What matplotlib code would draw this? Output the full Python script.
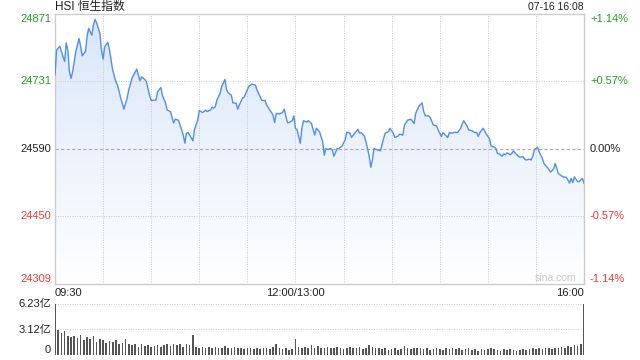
import matplotlib

matplotlib.use("Agg")
import matplotlib.pyplot as plt
import numpy as np
from matplotlib.colors import LinearSegmentedColormap

plt.rcParams["font.family"] = ["Liberation Sans", "Noto Sans CJK SC", "DejaVu Sans"]

# minutes since 09:30 on the trading-time axis (lunch break removed)
minutes = [
    0, 1, 3, 4, 6, 7, 8, 9, 10, 11, 13, 15, 16, 17, 19, 20, 21, 23, 24, 25,
    26, 28, 29, 30, 31, 33, 34, 36, 38, 39, 41, 43, 45, 46, 48, 49, 51, 52, 53, 54,
    56, 57, 59, 60, 63, 64, 66, 67, 69, 70, 72, 74, 75, 77, 78, 80, 81, 82, 83, 84,
    86, 87, 89, 90, 92, 93, 94, 95, 97, 98, 99, 100, 101, 103, 104, 106, 107, 108, 110, 111,
    113, 114, 115, 117, 118, 120, 121, 123, 125, 126, 128, 129, 131, 132, 134, 136, 137, 138, 140, 142,
    143, 145, 146, 148, 149, 150, 151, 153, 154, 155, 157, 158, 160, 162, 163, 165, 167, 168, 169, 170,
    172, 173, 174, 176, 177, 179, 181, 182, 184, 185, 187, 189, 190, 191, 193, 194, 196, 197, 198, 199,
    201, 202, 203, 205, 206, 208, 209, 211, 212, 214, 215, 217, 218, 220, 222, 224, 225, 227, 229, 230,
    231, 233, 234, 236, 238, 239, 241, 242, 243, 245, 246, 248, 249, 251, 253, 254, 255, 257, 258, 260,
    262, 263, 264, 265, 267, 268, 269, 271, 272, 274, 275, 276, 277, 279, 280, 281, 282, 284, 285, 286,
    287, 289, 290, 292, 293, 294, 296, 297, 298, 299, 301, 302, 304, 305, 307, 308, 309, 311, 312, 313,
    314, 316, 317, 319, 321, 322, 323, 324, 326, 327, 329, 330,
]
prices = [
    24744, 24796, 24804, 24793, 24772, 24811, 24796, 24751, 24737, 24751,
    24793, 24820, 24803, 24784, 24793, 24824, 24841, 24827, 24848, 24860,
    24852, 24831, 24796, 24777, 24803, 24812, 24796, 24754, 24730, 24723,
    24696, 24673, 24696, 24713, 24737, 24744, 24756, 24744, 24732, 24740,
    24735, 24730, 24702, 24691, 24692, 24709, 24718, 24702, 24685, 24671,
    24668, 24644, 24652, 24650, 24640, 24619, 24602, 24623, 24624, 24619,
    24607, 24630, 24650, 24670, 24666, 24668, 24671, 24668, 24671, 24677,
    24675, 24678, 24692, 24706, 24720, 24735, 24714, 24707, 24702, 24686,
    24685, 24673, 24682, 24696, 24698, 24713, 24721, 24725, 24723, 24713,
    24698, 24691, 24691, 24682, 24671, 24661, 24645, 24664, 24663, 24666,
    24673, 24645, 24645, 24649, 24659, 24633, 24630, 24602, 24633, 24649,
    24646, 24649, 24643, 24619, 24633, 24626, 24605, 24577, 24591, 24589,
    24591, 24588, 24575, 24591, 24591, 24596, 24609, 24625, 24623, 24614,
    24623, 24631, 24623, 24624, 24617, 24605, 24575, 24552, 24567, 24591,
    24588, 24588, 24586, 24612, 24623, 24626, 24633, 24623, 24614, 24617,
    24621, 24619, 24640, 24650, 24652, 24643, 24664, 24679, 24686, 24668,
    24659, 24659, 24656, 24640, 24638, 24630, 24616, 24624, 24621, 24614,
    24624, 24623, 24625, 24624, 24633, 24642, 24649, 24638, 24630, 24628,
    24624, 24625, 24616, 24624, 24633, 24628, 24621, 24612, 24596, 24594,
    24591, 24581, 24580, 24575, 24580, 24578, 24582, 24578, 24581, 24586,
    24582, 24575, 24573, 24574, 24569, 24567, 24569, 24567, 24574, 24588,
    24594, 24584, 24571, 24560, 24552, 24548, 24542, 24548, 24560, 24550,
    24539, 24534, 24532, 24531, 24519, 24529, 24520, 24532, 24522, 24522,
    24529, 24519,
]

# turnover per 2-minute slot, in 亿
volumes = [
    6.23, 3.0, 2.7, 2.95, 2.3, 2.2, 2.3, 2.1, 2.4, 1.8,
    2.2, 1.9, 2.3, 1.6, 1.9, 1.8, 1.5, 1.7, 1.6, 1.8,
    1.4, 1.5, 1.9, 1.3, 1.2, 1.3, 1.0, 1.4, 1.1, 1.2,
    1.0, 1.1, 1.2, 1.0, 1.2, 1.3, 1.1, 1.4, 1.2, 1.3,
    1.0, 1.3, 1.2, 2.4, 1.0, 0.9, 1.0, 0.8, 1.0, 0.9,
    1.0, 0.8, 0.9, 1.1, 0.9, 0.8, 1.0, 0.8, 0.9, 0.7,
    0.8, 0.9, 0.7, 0.8, 0.7, 0.9, 0.8, 0.7, 1.0, 1.3,
    0.9, 0.7, 0.8, 0.6, 0.7, 1.9, 1.0, 0.9, 1.0, 0.8,
    1.2, 0.9, 1.1, 0.8, 0.9, 1.0, 0.9, 0.8, 1.0, 0.9,
    0.7, 0.8, 1.0, 0.8, 0.9, 1.0, 0.7, 0.8, 1.2, 1.0,
    0.9, 0.8, 0.7, 0.8, 0.6, 0.7, 0.8, 0.6, 0.7, 1.1,
    0.9, 0.7, 0.8, 0.9, 0.8, 0.7, 0.8, 0.6, 0.7, 0.8,
    0.7, 0.6, 0.8, 0.7, 0.9, 0.7, 0.8, 0.6, 0.7, 0.8,
    0.6, 0.7, 0.5, 0.7, 0.6, 0.7, 0.8, 0.7, 0.6, 0.5,
    0.7, 0.6, 0.7, 0.6, 0.5, 0.6, 0.7, 0.6, 0.7, 0.8,
    0.7, 0.8, 0.7, 0.9, 0.8, 0.7, 0.9, 0.8, 1.0, 0.9,
    1.1, 1.0, 1.2, 1.1, 1.3, 6.23,
]
vol_minutes = list(range(0, 331, 2))

prev_close = 24590
price_ticks = [24309, 24450, 24590, 24731, 24871]
pct_labels = ["-1.14%", "-0.57%", "0.00%", "+0.57%", "+1.14%"]
vol_ticks = [0, 3.12, 6.23]
vol_labels = ["0", "3.12亿", "6.23亿"]
time_labels = ["09:30", "12:00/13:00", "16:00"]
time_pos = [0, 150, 330]

GREEN = "#22a022"
RED = "#f03c3c"
DARK = "#222222"
LINE = "#4f8ef2"
GRID = "#c8c8c8"


def tick_color(v):
    if v > prev_close:
        return GREEN
    if v < prev_close:
        return RED
    return DARK


fig = plt.figure(figsize=(6.4, 3.6), dpi=100)
ax = fig.add_axes([55 / 640, 1 - 284 / 360, 529 / 640, 270 / 360])
axv = fig.add_axes([55 / 640, 1 - 355 / 360, 529 / 640, 51 / 360])

x = np.array(minutes)
y = np.array(prices)
ymin, ymax = price_ticks[0], price_ticks[-1]

# gradient fill under the line
poly = ax.fill_between(x, y, ymin, color="none", lw=0)
cmap = LinearSegmentedColormap.from_list("fade", ["#ffffff", "#d9e6f9"])
grad = np.linspace(0, 1, 256).reshape(-1, 1)
im = ax.imshow(grad, cmap=cmap, aspect="auto", origin="lower",
               extent=[0, 330, ymin, ymax], zorder=1)
im.set_clip_path(poly.get_paths()[0], transform=ax.transData)
ax.plot(x, y, color=LINE, lw=1.0, zorder=3)

ax.set_xlim(0, 330)
ax.set_ylim(ymin, ymax)
for m in range(30, 330, 30):
    ax.axvline(m, color=GRID, lw=0.7, ls=(0, (1, 1.5)), zorder=2)
for v in price_ticks[1:-1]:
    if v == prev_close:
        ax.axhline(v, color="#aaaaaa", lw=0.8, ls=(0, (3, 2)), zorder=2)
    else:
        ax.axhline(v, color=GRID, lw=0.7, ls=(0, (1, 1.5)), zorder=2)
for s in ax.spines.values():
    s.set_color("#cccccc")
    s.set_linewidth(1.0)
ax.set_xticks([])
ax.set_yticks([])

# left price labels and right percent labels
for i, (v, p) in enumerate(zip(price_ticks, pct_labels)):
    va = "bottom" if i == 0 else ("top" if i == len(price_ticks) - 1 else "center")
    ax.text(-4 / 529 * 330, v, str(v), ha="right", va=va, fontsize=8,
            color=tick_color(v), clip_on=False)
    ax.text(330 + 6 / 529 * 330, v, p, ha="left", va=va, fontsize=8,
            color=tick_color(v), clip_on=False)

aligns = ["left", "center", "right"]
for t, m, ha in zip(time_labels, time_pos, aligns):
    ax.text(m, ymin - 9, t, ha=ha, va="top", fontsize=8, color=DARK, clip_on=False)

ax.text(325, ymin + 3, "sina.com", ha="right", va="bottom", fontsize=7.5,
        color="#c8c8c8", zorder=4)

fig.text(55 / 640, 1 - 7 / 360, "HSI 恒生指数", ha="left", va="center",
         fontsize=8.5, color=DARK)
fig.text(584 / 640, 1 - 7 / 360, "07-16 16:08", ha="right", va="center",
         fontsize=7.5, color=DARK)

# volume panel
axv.bar(vol_minutes, volumes, width=1.0, color="#555555", align="center")
axv.set_xlim(0, 330)
axv.set_ylim(0, vol_ticks[-1])
for v in vol_ticks[1:]:
    axv.axhline(v, color=GRID, lw=0.7, ls=(0, (1, 1.5)), zorder=0)
for s in axv.spines.values():
    s.set_visible(False)
axv.set_xticks([])
axv.set_yticks([])
for v, lab in zip(vol_ticks, vol_labels):
    va = "bottom" if v == 0 else "center"
    axv.text(-4 / 529 * 330, v, lab, ha="right", va=va, fontsize=8,
             color=DARK, clip_on=False)

fig.savefig("out.png", dpi=100)
